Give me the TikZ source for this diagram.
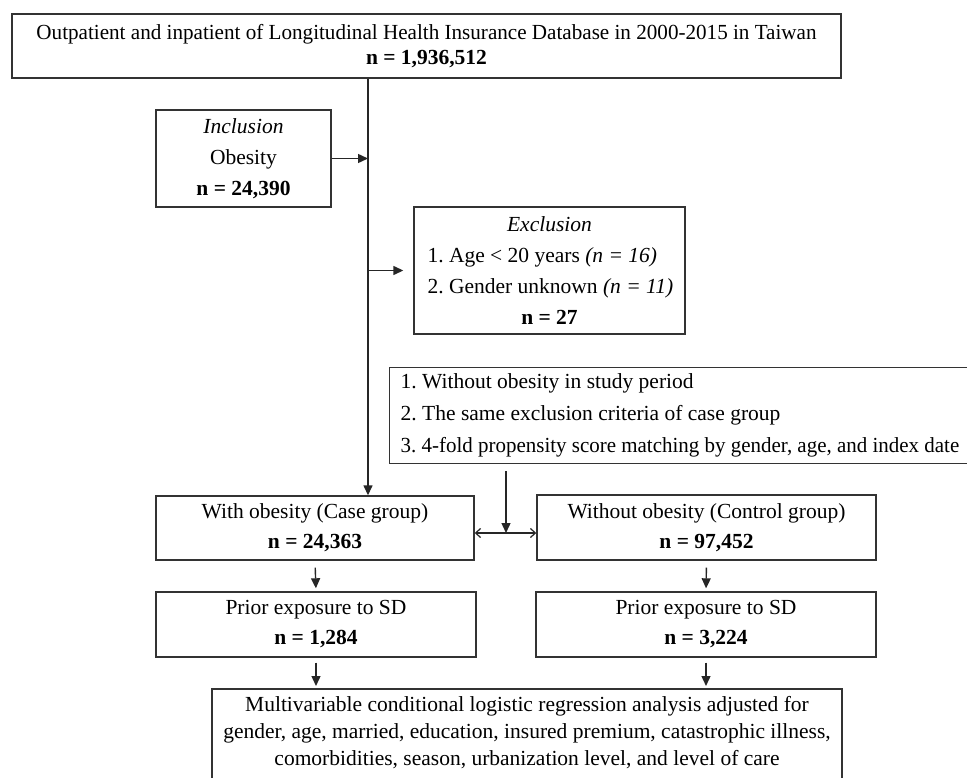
\documentclass[tikz,border=0pt]{standalone}
\usepackage{fontspec}
\setmainfont{Liberation Serif}
\usetikzlibrary{arrows.meta}
\begin{document}
\begin{tikzpicture}[x=1pt,y=-1pt,
  box/.style={draw=black!80, line width=1.4pt, inner sep=0pt, align=center},
  arr/.style={-{Triangle[length=10pt,width=9pt]}, line width=1.4pt, draw=black!85},
  dbl/.style={{Straight Barb[length=5pt,width=9pt]}-{Straight Barb[length=5pt,width=9pt]}, line width=1.2pt, draw=black!85}]
\useasboundingbox (0,0) rectangle (967,778);
\fill[white] (0,0) rectangle (967,778);

\node[box, minimum width=829pt, minimum height=64pt, font=\fontsize{21.5}{25}\selectfont\frenchspacing] (top) at (426.5,46)
  {\scalebox{0.982}[1]{Outpatient and inpatient of Longitudinal Health Insurance Database in 2000-2015 in Taiwan}\\ \textbf{n = 1,936,512}};

\node[box, minimum width=175pt, minimum height=97pt, font=\fontsize{21.5}{31}\selectfont\frenchspacing] (incl) at (243.5,158.5)
  {\textit{Inclusion}\\ Obesity\\ \textbf{n = 24,390}};

\node[box, minimum width=271pt, minimum height=127pt, font=\fontsize{21.5}{31}\selectfont\frenchspacing] (excl) at (549.5,270.5)
  {\textit{Exclusion}\\
   \makebox[244pt][l]{1. Age < 20 years \textit{(n = 16)}}\\
   \makebox[244pt][l]{2. Gender unknown \textit{(n = 11)}}\\
   \textbf{n = 27}};

\node[box, anchor=north west, text width=600pt, inner xsep=11pt, align=flush left, minimum height=96pt, font=\fontsize{21.5}{32}\selectfont\frenchspacing] (crit) at (389,367)
  {1. Without obesity in study period\\
   2. The same exclusion criteria of case group\\
   \scalebox{0.975}[1]{3. 4-fold propensity score matching by gender, age, and index date}};

\node[box, minimum width=318pt, minimum height=64pt, font=\fontsize{21.5}{30}\selectfont\frenchspacing] (case) at (315,528)
  {With obesity (Case group)\\ \textbf{n = 24,363}};
\node[box, minimum width=339pt, minimum height=65pt, font=\fontsize{21.5}{30}\selectfont\frenchspacing] (ctrl) at (706.5,527.5)
  {Without obesity (Control group)\\ \textbf{n = 97,452}};

\node[box, minimum width=320pt, minimum height=65pt, font=\fontsize{21.5}{30}\selectfont\frenchspacing] (prl) at (316,624.5)
  {Prior exposure to SD\\ \textbf{n = 1,284}};
\node[box, minimum width=340pt, minimum height=65pt, font=\fontsize{21.5}{30}\selectfont\frenchspacing] (prr) at (706,624.5)
  {Prior exposure to SD\\ \textbf{n = 3,224}};

\node[align=center, inner sep=0pt, font=\fontsize{21.5}{27}\selectfont\frenchspacing] (bot) at (527,733)
  {Multivariable conditional logistic regression analysis adjusted for\\
   gender, age, married, education, insured premium, catastrophic illness,\\
   comorbidities, season, urbanization level, and level of care};
\draw[draw=black!80, line width=1.4pt] (212,689) rectangle (842,800);
\coordinate (bottop) at (527,689);

\coordinate (mainx) at (368,0);
\coordinate (mid) at (506,533);

\draw[arr] (top.south -| mainx) -- (case.north -| mainx);
\draw[arr] (incl.east) -- (incl.east -| mainx);
\draw[arr, shorten >=10pt] (mainx |- excl.west) -- (excl.west);
\draw[arr, shorten <=7pt] (crit.south -| mid) -- (mid);
\draw[dbl] (case.east |- mid) -- (ctrl.west |- mid);
\draw[arr, shorten <=7pt, shorten >=3pt] (case.south) -- (prl.north);
\draw[arr, shorten <=7pt, shorten >=3pt] (ctrl.south) -- (prr.north);
\draw[arr, shorten <=5pt, shorten >=3pt] (prl.south) -- (prl.south |- bottop);
\draw[arr, shorten <=5pt, shorten >=3pt] (prr.south) -- (prr.south |- bottop);
\end{tikzpicture}
\end{document}
